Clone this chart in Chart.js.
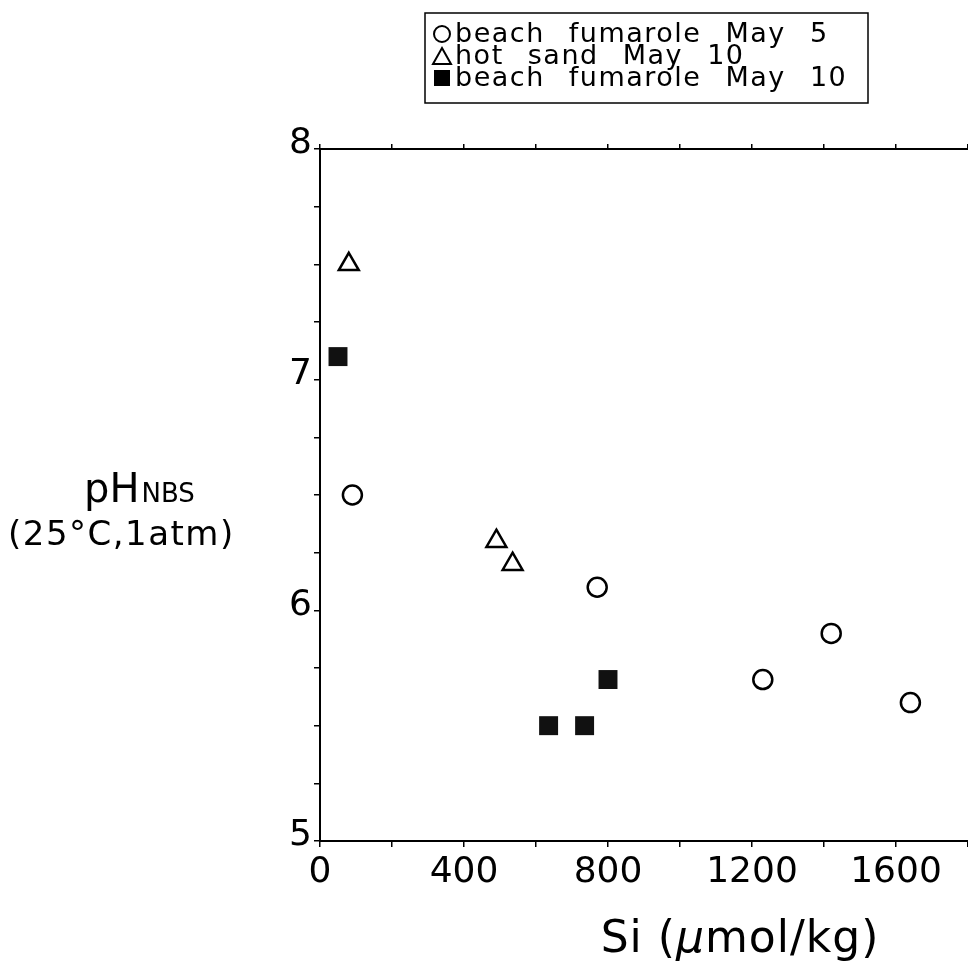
<!DOCTYPE html>
<html>
<head>
<meta charset="utf-8">
<script src="https://cdn.jsdelivr.net/npm/chart.js@4/dist/chart.umd.min.js"></script>
<style>
  html, body { margin: 0; padding: 0; background: #fff; }
  canvas { display: block; }
</style>
</head>
<body>
<canvas id="chart" width="968" height="969"></canvas>
<script>
// Si (umol/kg) and pH for each sampling group
const siFumaroleMay5 = [90, 770, 1230, 1420, 1640];
const phFumaroleMay5 = [6.5, 6.1, 5.7, 5.9, 5.6];

const siHotSandMay10 = [80, 490, 535];
const phHotSandMay10 = [7.5, 6.3, 6.2];

const siFumaroleMay10 = [50, 635, 735, 800];
const phFumaroleMay10 = [7.1, 5.5, 5.5, 5.7];

const seriesLabels = ['beach fumarole May 5', 'hot sand May 10', 'beach fumarole May 10'];

const xTicks = [0, 400, 800, 1200, 1600];
const yTicks = [5, 6, 7, 8];

const FONT = '"DejaVu Sans", sans-serif';

function toPoints(xs, ys) {
    return xs.map((x, i) => ({ x, y: ys[i] }));
}

// keep the plot running right to the canvas edge
function noSidePadding(s) {
    s.paddingLeft = 0;
    s.paddingRight = 0;
}

// titles and the boxed legend are drawn by hand on top of the chart
const annotations = {
    id: 'annotations',
    afterDraw(chart) {
        const ctx = chart.ctx;
        ctx.save();
        ctx.fillStyle = '#000';
        ctx.strokeStyle = '#000';

        // y title: pH with NBS subscript, then conditions
        ctx.textBaseline = 'alphabetic';
        ctx.textAlign = 'left';
        ctx.font = '40px ' + FONT;
        ctx.fillText('pH', 84, 502);
        const pw = ctx.measureText('pH').width;
        ctx.font = '26px ' + FONT;
        ctx.fillText('NBS', 84 + pw + 2, 502);
        ctx.font = '34px ' + FONT;
        ctx.letterSpacing = '1.5px';
        ctx.fillText('(25°C,1atm)', 8, 545);
        ctx.letterSpacing = '0px';

        // x title with italic mu
        const parts = [['Si (', ''], ['\u03bc', 'italic '], ['mol/kg)', '']];
        const size = '44px ';
        ctx.letterSpacing = '1px';
        let total = 0;
        parts.forEach(p => {
            ctx.font = p[1] + size + FONT;
            total += ctx.measureText(p[0]).width;
        });
        let x = 740 - total / 2;
        parts.forEach(p => {
            ctx.font = p[1] + size + FONT;
            ctx.fillText(p[0], x, 952);
            x += ctx.measureText(p[0]).width;
        });
        ctx.letterSpacing = '0px';

        // legend box
        ctx.lineWidth = 1.5;
        ctx.strokeRect(425, 13, 443, 90);
        ctx.font = '27px ' + FONT;
        ctx.letterSpacing = '1.5px';
        ctx.wordSpacing = '14px';
        const rows = [34, 56, 78];
        chart.data.datasets.forEach((ds, i) => {
            const cy = rows[i];
            ctx.lineWidth = 2;
            ctx.beginPath();
            if (ds.pointStyle === 'circle') {
                ctx.arc(442, cy, 8, 0, Math.PI * 2);
                ctx.stroke();
            } else if (ds.pointStyle === 'triangle') {
                ctx.moveTo(442, cy - 8);
                ctx.lineTo(451, cy + 8);
                ctx.lineTo(433, cy + 8);
                ctx.closePath();
                ctx.stroke();
            } else {
                ctx.fillRect(434, cy - 8, 16, 16);
            }
            ctx.textBaseline = 'middle';
            ctx.fillText(ds.label, 455, cy + 1);
        });
        ctx.restore();
    }
};

const tickFont = { family: FONT, size: 36 };

new Chart(document.getElementById('chart').getContext('2d'), {
    type: 'scatter',
    data: {
        datasets: [{
            label: seriesLabels[0],
            data: toPoints(siFumaroleMay5, phFumaroleMay5),
            pointStyle: 'circle',
            pointRadius: 9.5,
            borderWidth: 2.5,
            borderColor: '#000',
            backgroundColor: 'rgba(0,0,0,0)'
        }, {
            label: seriesLabels[1],
            data: toPoints(siHotSandMay10, phHotSandMay10),
            pointStyle: 'triangle',
            pointRadius: 11.5,
            borderWidth: 2.5,
            borderColor: '#000',
            backgroundColor: 'rgba(0,0,0,0)'
        }, {
            label: seriesLabels[2],
            data: toPoints(siFumaroleMay10, phFumaroleMay10),
            pointStyle: 'rect',
            pointRadius: 13.4,
            borderWidth: 0,
            borderColor: '#111',
            backgroundColor: '#111'
        }]
    },
    options: {
        responsive: false,
        animation: false,
        devicePixelRatio: 1,
        layout: { autoPadding: false, padding: { top: 149, right: 0, bottom: 0, left: 0 } },
        plugins: { legend: { display: false }, tooltip: { enabled: false } },
        scales: {
            x: {
                type: 'linear',
                position: 'bottom',
                min: 0,
                max: 1800,
                afterFit: s => { s.height = 128; noSidePadding(s); },
                ticks: {
                    stepSize: 200,
                    autoSkip: false,
                    maxRotation: 0,
                    padding: 4,
                    color: '#000',
                    font: tickFont,
                    callback: v => xTicks.includes(v) ? String(v) : ''
                },
                grid: { drawOnChartArea: false, tickLength: 6, color: '#000', lineWidth: 1.5 },
                border: { color: '#000', width: 2 }
            },
            xTop: {
                type: 'linear',
                position: 'top',
                min: 0,
                max: 1800,
                afterFit: s => { s.height = 0; noSidePadding(s); },
                ticks: { stepSize: 200, display: false },
                grid: { drawOnChartArea: false, tickLength: 5, color: '#000', lineWidth: 1.5 },
                border: { color: '#000', width: 2 }
            },
            y: {
                type: 'linear',
                min: 5,
                max: 8,
                afterFit: s => { s.width = 320; },
                ticks: {
                    stepSize: 0.25,
                    autoSkip: false,
                    padding: 2,
                    color: '#000',
                    font: tickFont,
                    labelOffset: -5,
                    callback: v => yTicks.includes(v) ? String(v) : ''
                },
                grid: { drawOnChartArea: false, tickLength: 6, color: '#000', lineWidth: 1.5 },
                border: { color: '#000', width: 2 }
            }
        }
    },
    plugins: [annotations]
});
</script>
</body>
</html>
